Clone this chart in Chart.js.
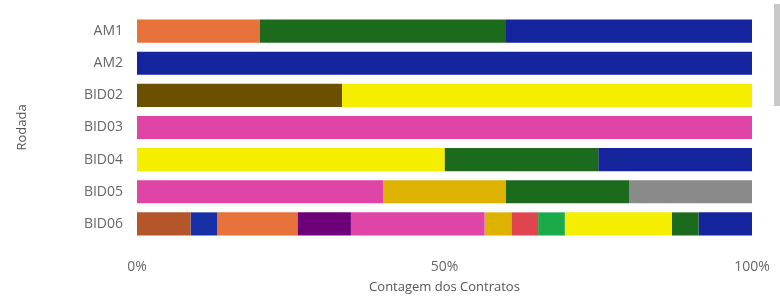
<!DOCTYPE html>
<html>
<head>
<meta charset="utf-8">
<script src="https://cdn.jsdelivr.net/npm/chart.js@4/dist/chart.umd.min.js"></script>
<style>
  html, body { margin: 0; padding: 0; background: #fff; }
  #wrap { position: relative; width: 780px; height: 302px; }
  #scroll { position: absolute; left: 774px; top: 4px; width: 6px; height: 102px; background: #c8c8c8; }
</style>
</head>
<body>
<div id="wrap">
  <canvas id="chart" width="780" height="302"></canvas>
  <div id="scroll"></div>
</div>
<script>
// categorias (rodadas)
const rodadas = ['AM1', 'AM2', 'BID02', 'BID03', 'BID04', 'BID05', 'BID06'];

// contagem de contratos por série, na ordem das rodadas acima
const serie01 = [0, 0, 0, 0, 0, 0, 2];
const serie02 = [0, 0, 0, 0, 0, 0, 1];
const serie03 = [1, 0, 0, 0, 0, 0, 3];
const serie04 = [0, 0, 1, 0, 0, 0, 0];
const serie05 = [0, 0, 0, 0, 0, 0, 2];
const serie06 = [0, 0, 0, 1, 0, 2, 5];
const serie07 = [0, 0, 0, 0, 0, 1, 1];
const serie08 = [0, 0, 0, 0, 0, 0, 1];
const serie09 = [0, 0, 0, 0, 0, 0, 1];
const serie10 = [0, 0, 2, 0, 2, 0, 4];
const serie11 = [2, 0, 0, 0, 1, 1, 1];
const serie12 = [2, 1, 0, 0, 1, 0, 2];
const serie13 = [0, 0, 0, 0, 0, 1, 0];

const xTicks = ['0%', '50%', '100%'];

const series = [serie01, serie02, serie03, serie04, serie05, serie06, serie07,
                serie08, serie09, serie10, serie11, serie12, serie13];
const colors = ['#B5562A', '#1830A6', '#E8733A', '#6B5000', '#6E0079', '#E044A7', '#DDB200',
                '#E0454F', '#1AAA4A', '#F5EE00', '#1C6A1C', '#14249C', '#8A8A8A'];

const totals = rodadas.map((_, i) => series.reduce((s, arr) => s + arr[i], 0));

const datasets = series.map((arr, k) => ({
  label: 'Série ' + (k + 1),
  data: arr.map((v, i) => totals[i] ? v / totals[i] * 100 : 0),
  backgroundColor: colors[k],
  borderWidth: 0,
  barPercentage: 0.72,
  categoryPercentage: 1
}));

const font = "'Open Sans', 'Segoe UI', sans-serif";

new Chart(document.getElementById('chart').getContext('2d'), {
  type: 'bar',
  data: { labels: rodadas, datasets },
  options: {
    indexAxis: 'y',
    responsive: false,
    animation: false,
    layout: { padding: { left: 14, right: 28, top: 15, bottom: 0 } },
    plugins: {
      legend: { display: false },
      tooltip: { enabled: false }
    },
    scales: {
      x: {
        stacked: true,
        min: 0,
        max: 100,
        grid: { display: false, drawTicks: false },
        border: { display: false },
        afterBuildTicks: axis => {
          axis.ticks = [0, 50, 100].map(v => ({ value: v }));
        },
        ticks: {
          padding: 19,
          color: '#666',
          font: { family: font, size: 14 },
          callback: (v) => xTicks[[0, 50, 100].indexOf(v)]
        },
        title: {
          display: true,
          text: 'Contagem dos Contratos',
          color: '#555',
          font: { family: font, size: 13 },
          padding: { top: 1, bottom: 7 }
        },
        afterFit: axis => {
          axis.height = 62;
          axis.paddingLeft = 0;
          axis.paddingRight = 0;
        }
      },
      y: {
        stacked: true,
        grid: { display: false, drawTicks: false },
        border: { display: false },
        ticks: {
          padding: 14,
          color: '#666',
          font: { family: font, size: 14 }
        },
        title: {
          display: true,
          text: 'Rodada',
          color: '#555',
          font: { family: font, size: 13 },
          padding: 0
        },
        afterFit: axis => {
          axis.width = 123;
          axis.paddingTop = 0;
          axis.paddingBottom = 0;
        }
      }
    }
  }
});
</script>
</body>
</html>
